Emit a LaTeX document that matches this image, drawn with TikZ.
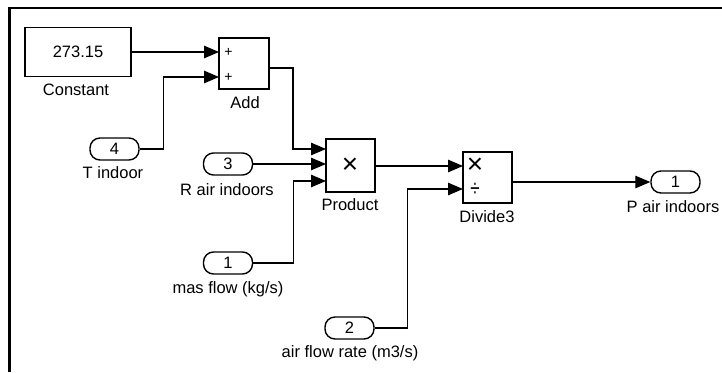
\documentclass[tikz,border=0pt]{standalone}
\usepackage{fontspec}
\setmainfont{Liberation Sans}
\usetikzlibrary{arrows.meta}
\begin{document}
\begin{tikzpicture}[x=1pt,y=-1pt,
  lbl/.style={font=\fontsize{16.5}{18}\selectfont, inner sep=0pt, anchor=center},
  blk/.style={draw, line width=1.4pt, inner sep=0pt},
  port/.style={draw, line width=1.4pt, rounded corners=10pt, minimum width=49pt, minimum height=22pt, inner sep=0pt, font=\fontsize{16.5}{18}\selectfont},
  sig/.style={line width=1.3pt, -{Triangle[length=15pt,width=12.5pt]}},
  wire/.style={line width=1.3pt}]
\useasboundingbox (0,0) rectangle (722,372);
\fill[white] (0,0) rectangle (722,372);
% frame
\draw[line width=2.6pt] (722,8) -- (9.5,8) -- (9.5,372);

% blocks
\node[blk, minimum width=106pt, minimum height=49pt, font=\fontsize{16.5}{18}\selectfont] (const) at (78,52) {273.15};
\node[blk, minimum width=50pt, minimum height=51pt] (add) at (244,63.5) {};
\node[blk, minimum width=49pt, minimum height=53pt] (prod) at (350.5,165.5) {};
\node[blk, minimum width=49pt, minimum height=51pt] (div) at (487.5,177.5) {};

% ports
\node[port] (tin) at (114.5,149) {4};
\node[port] (rin) at (228,164) {3};
\node[port] (min) at (228,263) {1};
\node[port] (fin) at (349.5,328) {2};
\node[port] (pout) at (675.5,182) {1};

% signs
\node[font=\fontsize{14}{14}\selectfont, inner sep=0pt] (plus1) at (228.5,52) {+};
\node[font=\fontsize{14}{14}\selectfont, inner sep=0pt] (plus2) at (228.5,77) {+};
\node[font=\fontsize{28}{28}\selectfont, inner sep=0pt] (ptimes) at (350,166) {×};
\node[font=\fontsize{28}{28}\selectfont, inner sep=0pt] (dtimes) at (475,166) {×};
\node[font=\fontsize{17}{17}\selectfont, inner sep=0pt, yscale=1.4] (ddiv) at (475,190) {÷};

% labels
\node[lbl] (lconst) at (76,90) {Constant};
\node[lbl] (ladd) at (245,103) {Add};
\node[lbl] (ltin) at (113,173) {T indoor};
\node[lbl] (lrin) at (227,190) {R air indoors};
\node[lbl] (lprod) at (350,205) {Product};
\node[lbl] (ldiv) at (487,217) {Divide3};
\node[lbl] (lpout) at (673,207) {P air indoors};
\node[lbl] (lmin) at (228,289) {mas flow (kg/s)};
\node[lbl] (lfin) at (350,353) {air flow rate (m3/s)};

% input / output points
\coordinate (addin1) at (219,52);
\coordinate (addin2) at (219,77);
\coordinate (addout) at (269,68);
\coordinate (prodin1) at (326,149);
\coordinate (prodin2) at (326,164);
\coordinate (prodin3) at (326,181);
\coordinate (prodout) at (375,166);
\coordinate (divin1) at (463,166);
\coordinate (divin2) at (463,189);
\coordinate (divout) at (512,182);

% connectors
\draw[sig] (const.east |- addin1) -- (addin1);
\draw[sig] (tin.east) -- ++(24,0) |- (addin2);
\draw[sig] (addout) -- ++(24,0) |- (prodin1);
\draw[sig] (rin.east) -- (prodin2);
\draw[sig] (min.east) -- ++(40,0) |- (prodin3);
\draw[sig] (prodout) -- (divin1);
\draw[sig] (fin.east) -- ++(33,0) |- (divin2);
\draw[sig] (divout) -- (pout.west);
\end{tikzpicture}
\end{document}
